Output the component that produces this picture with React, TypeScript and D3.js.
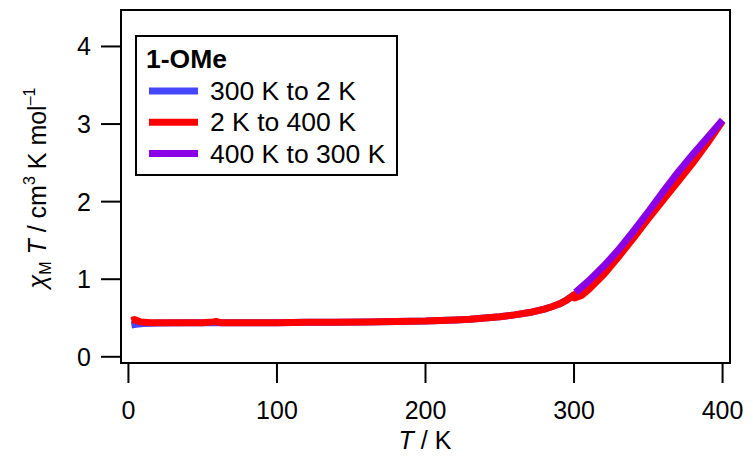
import * as d3 from "d3";

// temperature sweeps, chiMT in cm3 K mol-1
const coolT = [300, 295, 290, 285, 280, 270, 260, 250, 240, 230, 220, 200, 180, 160, 140, 120, 100, 80, 60, 40, 20, 10, 5, 2];
const coolChi = [0.8, 0.73, 0.68, 0.645, 0.615, 0.57, 0.54, 0.515, 0.5, 0.485, 0.475, 0.46, 0.455, 0.45, 0.445, 0.445, 0.44, 0.44, 0.44, 0.44, 0.435, 0.43, 0.42, 0.41];

const heatT = [2, 4, 8, 15, 30, 50, 57, 59, 62, 80, 100, 120, 140, 160, 180, 200, 220, 230, 240, 250, 260, 270, 280, 285, 290, 295, 300, 300.5, 305, 310, 320, 330, 340, 350, 360, 370, 380, 390, 400];
const heatChi = [0.47, 0.48, 0.45, 0.44, 0.44, 0.44, 0.45, 0.455, 0.44, 0.44, 0.44, 0.445, 0.445, 0.45, 0.455, 0.46, 0.475, 0.485, 0.5, 0.515, 0.54, 0.57, 0.615, 0.645, 0.68, 0.73, 0.8, 0.76, 0.79, 0.87, 1.06, 1.29, 1.53, 1.78, 2.02, 2.26, 2.5, 2.76, 3.04];

const backT = [400, 390, 380, 370, 360, 350, 340, 330, 320, 310, 301];
const backChi = [3.05, 2.83, 2.61, 2.38, 2.13, 1.87, 1.62, 1.38, 1.17, 0.98, 0.83];

const xTicks = [0, 100, 200, 300, 400];
const yTicks = [0, 1, 2, 3, 4];

const series = [
  { label: "300 K to 2 K", color: "#4646ff", t: coolT, v: coolChi },
  { label: "2 K to 400 K", color: "#ff0000", t: heatT, v: heatChi },
  { label: "400 K to 300 K", color: "#8a00e6", t: backT, v: backChi },
];

const font = "'Liberation Sans', Arial, sans-serif";

export default function App() {
  const left = 121;
  const right = 730;
  const top = 10;
  const bottom = 363;

  const x = d3.scaleLinear().domain([-5, 405]).range([left, right]);
  const y = d3.scaleLinear().domain([-0.08, 4.47]).range([bottom, top]);

  const line = d3
    .line<[number, number]>()
    .x((d) => x(d[0]))
    .y((d) => y(d[1]));

  return (
    <svg
      width={753}
      height={462}
      style={{ position: "fixed", left: 0, top: 0, background: "#fff" }}
      fontFamily={font}
    >
      {series.map((s) => (
        <path
          key={s.label}
          d={line(s.t.map((t, i) => [t, s.v[i]] as [number, number])) ?? ""}
          fill="none"
          stroke={s.color}
          strokeWidth={7}
          strokeLinejoin="round"
        />
      ))}

      <rect x={left} y={top} width={right - left} height={bottom - top} fill="none" stroke="#000" strokeWidth={2} />

      {xTicks.map((t) => (
        <g key={t}>
          <line x1={x(t)} x2={x(t)} y1={bottom} y2={bottom + 20} stroke="#000" strokeWidth={2} />
          <text x={x(t)} y={419} textAnchor="middle" fontSize={25}>
            {t}
          </text>
        </g>
      ))}
      {yTicks.map((t) => (
        <g key={t}>
          <line x1={left - 20} x2={left} y1={y(t)} y2={y(t)} stroke="#000" strokeWidth={2} />
          <text x={91} y={y(t)} textAnchor="end" dominantBaseline="central" fontSize={25}>
            {t}
          </text>
        </g>
      ))}

      <text x={425} y={449} textAnchor="middle" fontSize={25}>
        <tspan fontStyle="italic">T</tspan> / K
      </text>

      <text transform="translate(46,188) rotate(-90)" textAnchor="middle" fontSize={25}>
        <tspan fontStyle="italic">χ</tspan>
        <tspan fontSize={16} dy={5}>M</tspan>
        <tspan fontStyle="italic" dy={-5}> T</tspan>
        <tspan> / cm</tspan>
        <tspan fontSize={16} dy={-11}>3</tspan>
        <tspan dy={11}> K mol</tspan>
        <tspan fontSize={16} dy={-11}>–1</tspan>
      </text>

      <rect x={136} y={36} width={261} height={139} fill="#fff" stroke="#000" strokeWidth={2} />
      <text x={146} y={68} fontSize={26.5} fontWeight="bold">
        1-OMe
      </text>
      {series.map((s, i) => {
        const ly = 91 + i * 31.3;
        return (
          <g key={s.label}>
            <line x1={149} x2={198} y1={ly} y2={ly} stroke={s.color} strokeWidth={7} />
            <text x={210} y={ly + 9} fontSize={26.5}>
              {s.label}
            </text>
          </g>
        );
      })}
    </svg>
  );
}
